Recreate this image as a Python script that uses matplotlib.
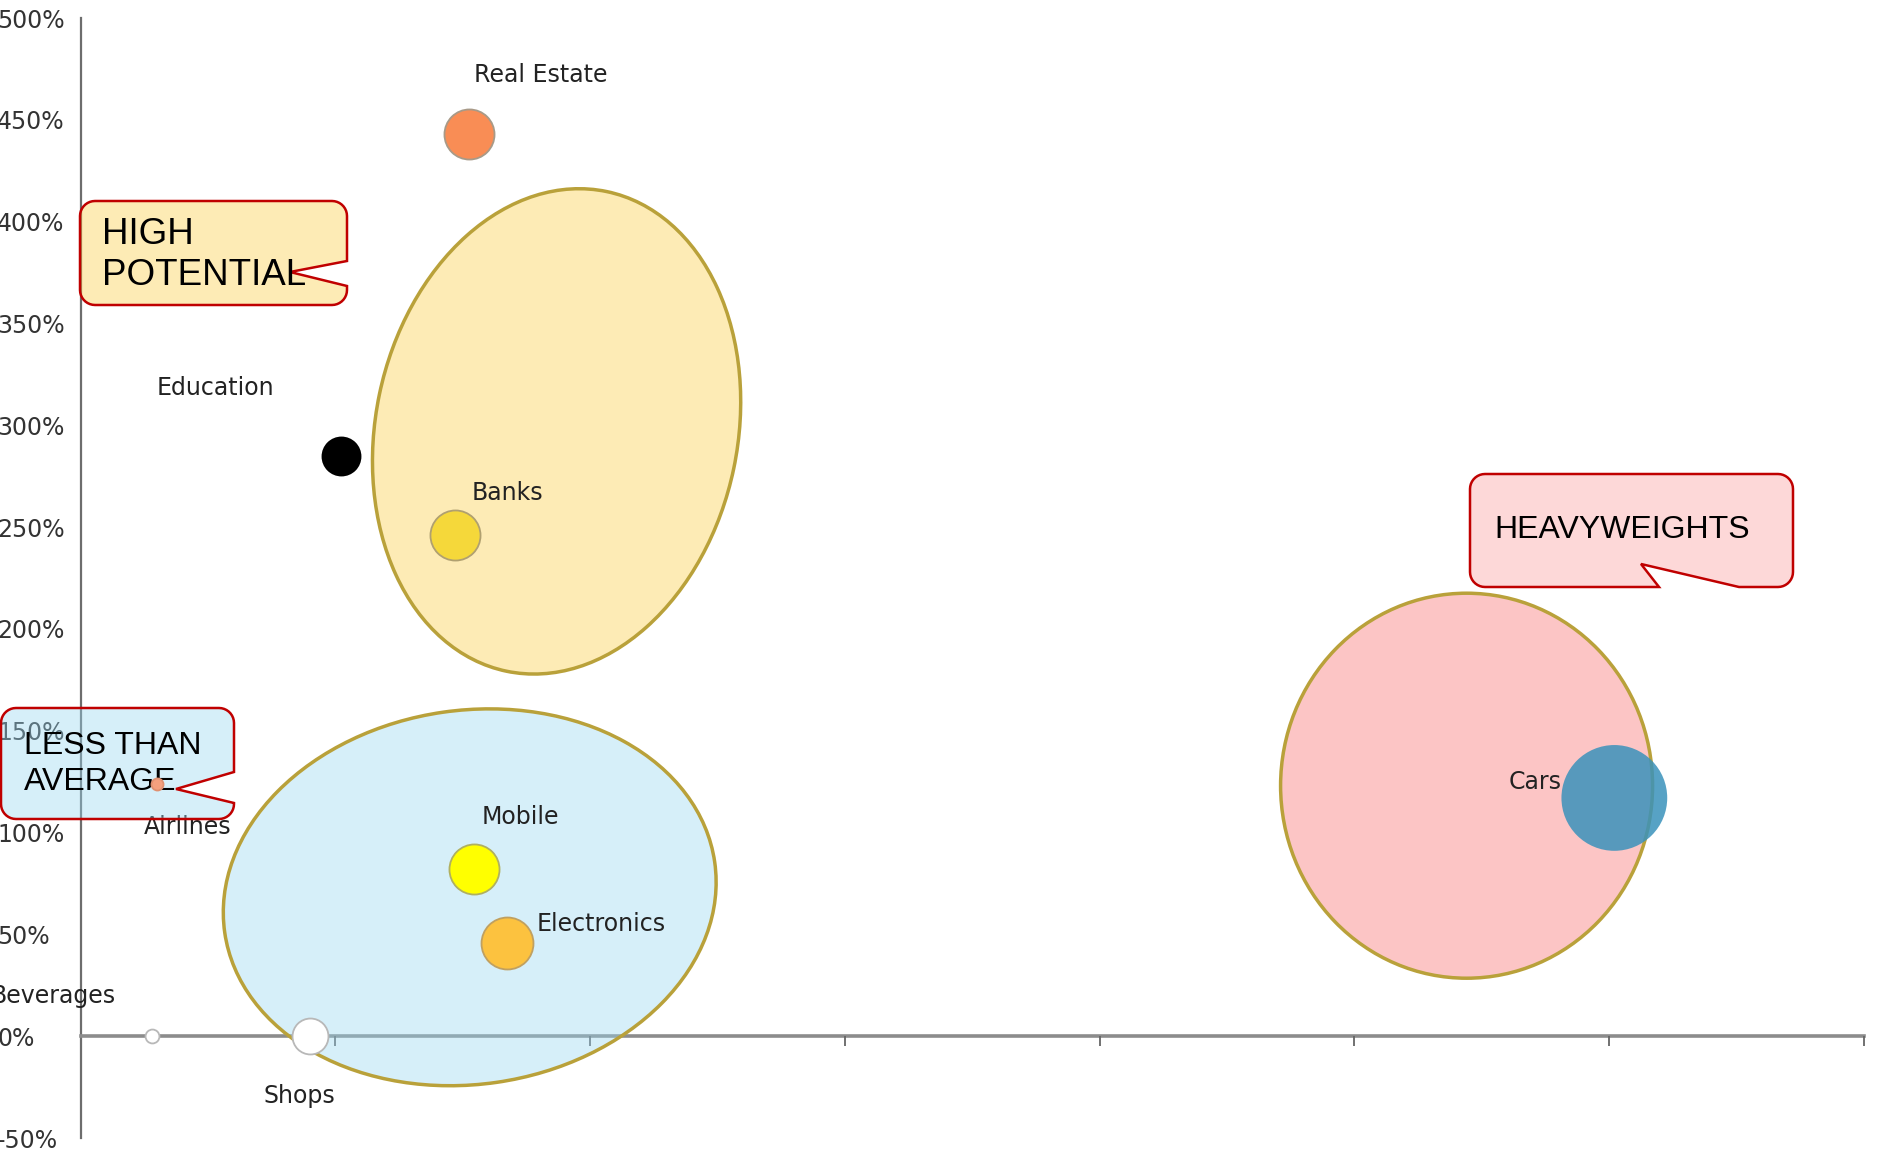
import numpy as np
import matplotlib
matplotlib.use('Agg')
import matplotlib.pyplot as plt
from matplotlib.patches import Ellipse, Polygon
from matplotlib import transforms

# bubble data
names = ['Real Estate', 'Education', 'Banks', 'Airlines', 'Mobile',
         'Electronics', 'Beverages', 'Shops', 'Cars']
xvals = [1.525, 1.02, 1.47, 0.30, 1.545, 1.675, 0.28, 0.90, 6.02]
growth = [443, 285, 246, 124, 82, 46, 0, 0, 117]
sizes = [1300, 750, 1300, 75, 1300, 1400, 100, 670, 5800]
colors = ['#f98d55', '#000000', '#f5d83a', '#f4a07e', '#ffff00',
          '#fcc23f', '#ffffff', '#ffffff', '#3a92bb']
yticks = list(range(-50, 501, 50))

W, H = 1878, 1150
fig = plt.figure(figsize=(W / 100, H / 100), dpi=100)
ax = fig.add_axes([80.7 / W, 1 - 1138 / H, (1864 - 80.7) / W, (1138 - 18) / H])
ax.set_xlim(0, 7)
ax.set_ylim(-50, 500)

for s in ['top', 'right']:
    ax.spines[s].set_visible(False)
ax.spines['bottom'].set_position(('data', 0))
ax.spines['bottom'].set_color('#8c8c8c')
ax.spines['bottom'].set_linewidth(2.6)
ax.spines['left'].set_color('#6d6d6d')
ax.spines['left'].set_linewidth(1.6)
for s in ax.spines.values():
    s.set_zorder(0.5)
ax.set_axisbelow(True)

ax.set_xticks(range(1, 8))
ax.set_xticklabels([])
ax.tick_params(axis='x', length=7, width=1.3, color='#666666', direction='out')
ax.set_yticks(yticks)
ax.set_yticklabels([f'{v}%' for v in yticks])
ax.tick_params(axis='y', length=0, pad=60, labelsize=17, labelcolor='#333333')
for lbl in ax.get_yticklabels():
    lbl.set_ha('left')

# group ellipses (center in data, size in pixels)
groups = [
    ((1.868, 297), 362, 490, -11.8, '#fccd48'),
    ((1.527, 68.2), 495, 374, 8.2, '#9ad8f2'),
    ((5.44, 123), 372, 385, 0, '#f97070'),
]
for (cx, cy), w, h, ang, fc in groups:
    px, py = ax.transData.transform((cx, cy))
    e = Ellipse((px, py), w, h, angle=ang, transform=transforms.IdentityTransform(),
                facecolor=matplotlib.colors.to_rgba(fc, 0.4),
                edgecolor='#b9a13a', linewidth=2.5, zorder=2)
    ax.add_artist(e)

# bubbles
edges = ['#a89a88', '#000000', '#b0a070', '#e09070', '#b0b060',
         '#c0a060', '#b8b8b8', '#b8b8b8', 'none']
for i in range(len(names)):
    ax.scatter(xvals[i], growth[i], s=sizes[i], color=colors[i],
               edgecolors=edges[i], linewidths=1.3,
               alpha=0.85 if names[i] == 'Cars' else 1.0, zorder=6, clip_on=False)

offsets = {'Real Estate': (72, 59), 'Education': (-125, 68), 'Banks': (52, 42),
           'Airlines': (30, -43), 'Mobile': (46, 52), 'Electronics': (94, 19),
           'Beverages': (-99, 40), 'Shops': (-11, -60), 'Cars': (-79, 16)}
for i, n in enumerate(names):
    ax.annotate(n, (xvals[i], growth[i]), xytext=offsets[n], textcoords='offset pixels',
                ha='center', va='center', fontsize=17, color='#222222', zorder=4,
                annotation_clip=False)

# callouts, in image pixel coords (y down)
tr = transforms.Affine2D().scale(1 / W, -1 / H).translate(0, 1) + fig.transFigure


def callout(x0, y0, x1, y1, r, tail, side):
    pts = []

    def arc(cx, cy, a0, a1):
        for t in np.linspace(a0, a1, 10):
            pts.append((cx + r * np.cos(t), cy + r * np.sin(t)))
    arc(x0 + r, y0 + r, np.pi, 1.5 * np.pi)
    arc(x1 - r, y0 + r, 1.5 * np.pi, 2 * np.pi)
    if side == 'right':
        pts.extend(tail)
    arc(x1 - r, y1 - r, 0, 0.5 * np.pi)
    if side == 'bottom':
        pts.extend(tail)
    arc(x0 + r, y1 - r, 0.5 * np.pi, np.pi)
    return pts


boxes = [
    ('HIGH\nPOTENTIAL', (80, 201, 347, 305), [(347, 261), (290, 272), (347, 286)], 'right',
     '#fccd48', 0.4, (102, 255), 26.5),
    ('LESS THAN\nAVERAGE', (1, 708, 234, 819), [(234, 772), (176, 789), (234, 803)], 'right',
     '#9ad8f2', 0.4, (24, 764), 23),
    ('HEAVYWEIGHTS', (1470, 474, 1793, 587), [(1739, 587), (1641, 564), (1659, 587)], 'bottom',
     '#f97070', 0.27, (1494, 530), 23),
]
for txt, (x0, y0, x1, y1), tail, side, fc, a, (tx, ty), fs in boxes:
    poly = Polygon(callout(x0, y0, x1, y1, 15, tail, side), closed=True, transform=tr,
                   facecolor=matplotlib.colors.to_rgba(fc, a), edgecolor='#c00000',
                   linewidth=1.8, zorder=5, clip_on=False)
    ax.add_patch(poly)
    ax.text(tx, ty, txt, transform=tr, ha='left', va='center', fontsize=fs,
            family='Liberation Sans', linespacing=1.25, color='black', zorder=5.5,
            clip_on=False)

ax.set_xlim(0, 7)
ax.set_ylim(-50, 500)
fig.savefig('out.png', dpi=100)
